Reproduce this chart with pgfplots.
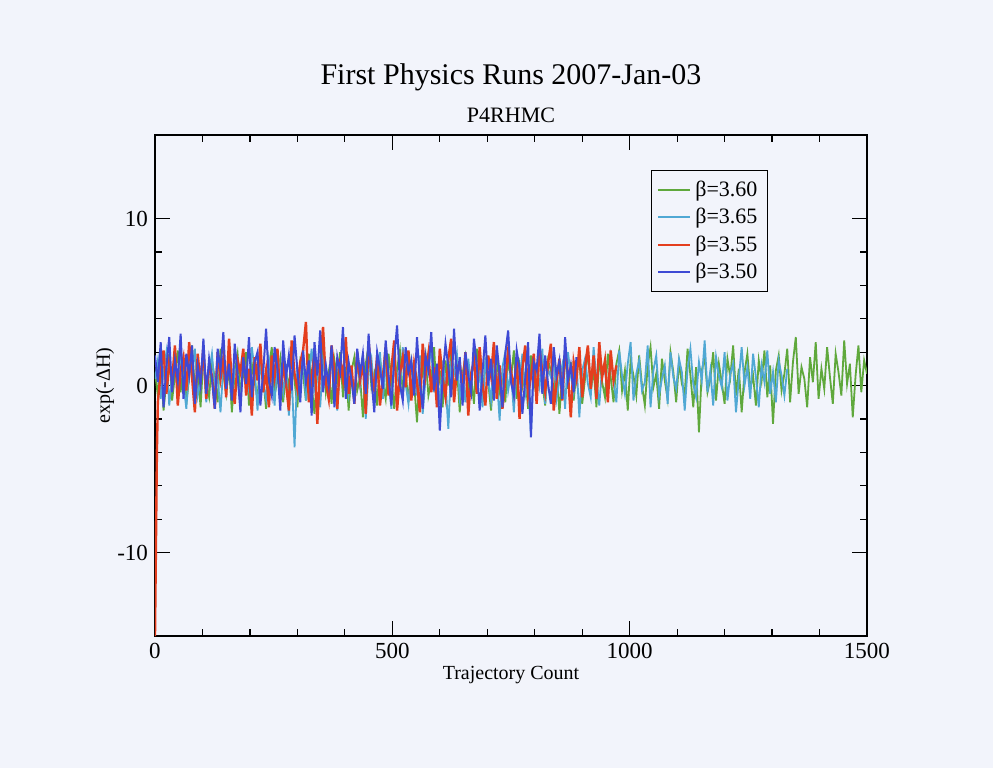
\documentclass[border=0pt]{standalone}
\usepackage{pgfplots}
\pgfplotsset{compat=1.18}
\usepackage{fontspec}
\setmainfont{Liberation Serif}

\definecolor{bgpaper}{RGB}{242,244,251}
\definecolor{cgreen}{RGB}{95,168,60}
\definecolor{ccyan}{RGB}{80,168,212}
\definecolor{cred}{RGB}{228,62,30}
\definecolor{cblue}{RGB}{62,74,212}

\begin{document}
\begin{tikzpicture}
\fill[bgpaper] (-77.5pt,-66pt) rectangle (419pt,318pt);
\begin{axis}[
    at={(0,0)}, anchor=south west,
    scale only axis,
    width=356pt, height=250.5pt,
    xmin=0, xmax=1500, ymin=-15, ymax=15,
    xtick={0,500,1000,1500}, minor x tick num=4,
    ytick={-10,0,10}, minor y tick num=4,
    tick align=inside,
    xtick pos=both, ytick pos=both,
    xticklabel pos=lower, yticklabel pos=left,
    major tick length=7.5pt, minor tick length=3.5pt,
    every tick/.style={black, line width=0.6pt},
    axis line style={black, line width=0.6pt},
    /pgf/number format/assume math mode=true,
    /pgf/number format/1000 sep={},
    tick label style={font=\fontsize{11.5}{13}\selectfont},
    xlabel={Trajectory Count},
    ylabel={exp(-ΔH)},
    xlabel style={font=\fontsize{10}{12}\selectfont, at={(axis description cs:0.5,0)}, anchor=center, yshift=-19.5pt},
    ylabel style={font=\fontsize{10}{12}\selectfont, at={(axis description cs:-0.0702,0.5)}, anchor=center},
    legend style={at={(rel axis cs:0.861,0.930)}, anchor=north east, draw=black, line width=0.6pt,
        fill=bgpaper, font=\fontsize{11}{13}\selectfont, row sep=0.5pt, inner sep=3pt},
    legend cell align=left,
    legend image code/.code={\draw[#1, line width=1pt] (0pt,0pt) -- (16pt,0pt);},
]
% beta = 3.60
\addplot[cgreen, line width=0.9pt] coordinates {
(0,0.8) (6,-0.6) (12,1.4) (18,-1.5) (24,0.3) (30,1.9) (36,-0.9) (42,0.6) (48,2.1) (54,-0.4)
(60,1.2) (66,-1.1) (72,0.5) (78,2.4) (84,-0.2) (90,0.9) (96,-1.3) (102,1.7) (108,0.1) (114,-0.7)
(120,1.5) (126,0.4) (132,-1.0) (138,2.2) (144,0.7) (150,-0.5) (156,1.1) (162,-1.6) (168,0.8) (174,1.9)
(180,-0.3) (186,0.6) (192,2.0) (198,-1.2) (204,1.3) (210,0.2) (216,-0.8) (222,1.8) (228,0.5) (234,-1.4)
(240,1.0) (246,2.3) (252,-0.6) (258,0.4) (264,1.6) (270,-1.0) (276,0.9) (282,-0.2) (288,2.1) (294,0.3)
(300,-1.3) (306,1.4) (312,0.7) (318,-0.9) (324,1.9) (330,0.0) (336,-1.7) (342,1.2) (348,0.6) (354,2.2)
(360,-0.4) (366,0.8) (372,-1.1) (378,1.5) (384,0.3) (390,2.0) (396,-0.7) (402,1.1) (408,-1.5) (414,0.9)
(420,1.7) (426,-0.3) (432,0.5) (438,-1.9) (444,1.3) (450,2.4) (456,-0.1) (462,0.7) (468,-1.2) (474,1.6)
(480,0.2) (486,-0.8) (492,1.9) (498,0.4) (504,-1.4) (510,1.0) (516,2.1) (522,-0.5) (528,0.8) (534,-1.0)
(540,1.4) (546,0.1) (552,-2.2) (558,1.2) (564,0.6) (570,1.8) (576,-0.6) (582,0.3) (588,2.3) (594,-0.9)
(600,0.9) (606,-1.3) (612,1.5) (618,0.0) (624,2.0) (630,-0.4) (636,1.1) (642,-1.6) (648,0.7) (654,1.7)
(660,-0.2) (666,0.5) (672,-1.1) (678,2.2) (684,0.8) (690,-0.7) (696,1.3) (702,0.2) (708,-1.5) (714,1.0)
(720,1.9) (726,-0.3) (732,0.6) (738,-1.0) (744,1.6) (750,0.4) (756,2.1) (762,-0.8) (768,1.2) (774,-0.1)
(780,0.7) (786,-1.4) (792,1.8) (798,0.3) (804,-0.6) (810,2.4) (816,0.1) (822,-1.2) (828,1.5) (834,0.9)
(840,-0.5) (846,1.1) (852,-1.7) (858,0.6) (864,2.0) (870,-0.2) (876,1.4) (882,-0.9) (888,0.8) (894,1.7)
(900,-1.1) (906,0.4) (912,2.2) (918,-0.4) (924,1.0) (930,-1.3) (936,1.6) (942,0.2) (948,-0.7) (954,1.9)
(960,0.5) (966,-1.0) (972,1.3) (978,2.1) (984,-0.3) (990,0.9) (996,-1.5) (1002,1.5) (1008,0.6) (1014,-0.6)
(1020,1.8) (1026,0.0) (1032,-1.2) (1038,1.2) (1044,2.3) (1050,-0.1) (1056,0.7) (1062,-1.4) (1068,1.6) (1074,0.3)
(1080,-0.8) (1086,2.0) (1092,0.8) (1098,-1.0) (1104,1.4) (1110,0.1) (1116,-0.5) (1122,2.2) (1128,0.6) (1134,-1.3)
(1140,1.1) (1146,-2.8) (1152,0.9) (1158,1.7) (1164,-0.4) (1170,0.4) (1176,2.0) (1182,-0.9) (1188,1.3) (1194,0.2)
(1200,-1.1) (1206,1.6) (1212,0.5) (1218,2.4) (1224,-0.6) (1230,1.0) (1236,-1.6) (1242,0.8) (1248,1.9) (1254,-0.2)
(1260,0.6) (1266,-1.2) (1272,1.5) (1278,0.3) (1284,2.1) (1290,-0.7) (1296,1.2) (1302,-2.3) (1308,0.9) (1314,1.8)
(1320,-0.3) (1326,0.7) (1332,2.2) (1338,-1.0) (1344,1.4) (1350,2.9) (1356,-0.5) (1362,1.1) (1368,0.4) (1374,-1.3)
(1380,1.7) (1386,0.2) (1392,2.6) (1398,-0.8) (1404,1.0) (1410,-0.2) (1416,2.3) (1422,0.5) (1428,-1.1) (1434,1.9)
(1440,0.8) (1446,-0.6) (1452,2.7) (1458,0.1) (1464,1.3) (1470,-1.9) (1476,0.6) (1482,2.4) (1488,-0.4) (1494,1.5) (1500,0.7)
};
\addlegendentry{β=3.60}
% beta = 3.65
\addplot[ccyan, line width=0.9pt] coordinates {
(0,0.4) (6,1.5) (12,-0.8) (18,0.9) (24,2.0) (30,-1.2) (36,0.6) (42,1.3) (48,-0.5) (54,1.8)
(60,0.2) (66,-1.4) (72,1.1) (78,0.7) (84,2.2) (90,-0.6) (96,0.3) (102,1.6) (108,-1.0) (114,0.8)
(120,1.9) (126,-0.2) (132,0.5) (138,-1.6) (144,1.2) (150,0.0) (156,2.1) (162,-0.7) (168,1.0) (174,0.4)
(180,-1.1) (186,1.7) (192,0.6) (198,-0.3) (204,2.3) (210,0.9) (216,-1.5) (222,1.4) (228,0.1) (234,-0.8)
(240,1.6) (246,0.5) (252,-1.2) (258,2.0) (264,0.8) (270,-0.4) (276,1.3) (282,-1.8) (288,0.7) (294,-3.7)
(300,1.1) (306,0.3) (312,1.9) (318,-0.9) (324,0.6) (330,2.2) (336,-0.1) (342,1.0) (348,-1.3) (354,1.5)
(360,0.4) (366,-0.7) (372,1.8) (378,0.2) (384,-1.5) (390,1.2) (396,0.9) (402,2.1) (408,-0.5) (414,0.7)
(420,-1.0) (426,1.4) (432,0.0) (438,1.9) (444,-2.0) (450,0.8) (456,1.6) (462,-0.3) (468,0.5) (474,2.0)
(480,-0.8) (486,1.1) (492,0.3) (498,-1.4) (504,1.7) (510,0.6) (516,-0.2) (522,2.3) (528,0.1) (534,-1.1)
(540,1.3) (546,0.8) (552,-0.6) (558,1.8) (564,-1.7) (570,0.4) (576,1.0) (582,2.2) (588,-0.4) (594,0.9)
(600,-1.2) (606,1.5) (612,0.2) (618,-2.6) (624,1.2) (630,0.7) (636,1.9) (642,-0.7) (648,0.5) (654,-1.0)
(660,1.6) (666,0.0) (672,2.1) (678,-0.5) (684,0.9) (690,-1.3) (696,1.4) (702,0.3) (708,-0.9) (714,1.7)
(720,0.6) (726,-2.1) (732,1.1) (738,2.0) (744,-0.3) (750,0.8) (756,-1.6) (762,1.3) (768,0.4) (774,1.9)
(780,-0.6) (786,0.2) (792,-2.9) (798,1.5) (804,0.7) (810,-0.1) (816,2.2) (822,-1.1) (828,1.0) (834,0.5)
(840,1.8) (846,-0.8) (852,0.3) (858,1.2) (864,-1.4) (870,2.0) (876,0.6) (882,-0.4) (888,1.4) (894,-1.9)
(900,0.9) (906,1.6) (912,0.1) (918,-0.7) (924,2.3) (930,0.4) (936,-1.2) (942,1.1) (948,0.8) (954,-0.2)
(960,1.7) (966,0.3) (972,-1.0) (978,2.1) (984,0.6) (990,-0.5) (996,1.3) (1002,2.6) (1008,-0.9) (1014,0.7)
(1020,1.5) (1026,-0.3) (1032,0.2) (1038,2.4) (1044,-1.3) (1050,0.9) (1056,1.8) (1062,-0.6) (1068,0.4) (1074,1.2)
(1080,-1.1) (1086,2.0) (1092,0.5) (1098,-0.2) (1104,1.6) (1110,0.8) (1116,-1.5) (1122,1.0) (1128,2.2) (1134,0.1)
(1140,-0.7) (1146,1.4) (1152,0.3) (1158,2.7) (1164,-0.4) (1170,0.9) (1176,-1.2) (1182,1.7) (1188,0.6) (1194,-0.1)
(1200,2.0) (1206,-0.9) (1212,0.7) (1218,1.3) (1224,-1.6) (1230,0.4) (1236,2.3) (1242,0.0) (1248,1.1) (1254,-0.8)
(1260,1.9) (1266,0.5) (1272,-1.3) (1278,1.2) (1284,0.2) (1290,2.1) (1296,-0.5) (1302,0.8) (1308,-1.0) (1314,1.5)
(1320,0.6) (1326,-0.6) (1332,1.0)
};
\addlegendentry{β=3.65}
% beta = 3.55
\addplot[cred, line width=1.2pt] coordinates {
(0,-15) (2,-9.6) (4,-4.0)
(6,-1.0) (12,0.8) (18,2.1) (24,-0.5) (30,1.4) (36,0.3) (42,2.4) (48,-1.2) (54,0.9) (60,1.7)
(66,-0.3) (72,2.6) (78,0.5) (84,-1.6) (90,1.9) (96,0.1) (102,2.3) (108,-0.8) (114,1.2) (120,0.6)
(126,-1.4) (132,2.0) (138,0.4) (144,1.6) (150,-0.7) (156,2.8) (162,0.2) (168,-1.1) (174,1.5) (180,0.8)
(186,2.2) (192,-0.6) (198,1.0) (204,-1.8) (210,1.7) (216,0.3) (222,2.5) (228,-0.4) (234,0.9) (240,-1.3)
(246,1.8) (252,0.5) (258,2.2) (264,-0.9) (270,1.3) (276,0.1) (282,-1.5) (288,2.7) (294,0.7) (300,-0.2)
(306,1.4) (312,2.1) (318,3.8) (324,-1.0) (330,0.6) (336,1.9) (342,-2.3) (348,1.1) (354,3.5) (360,0.2)
(366,-0.8) (372,2.4) (378,0.9) (384,-1.4) (390,1.6) (396,0.4) (402,2.9) (408,-0.5) (414,1.2) (420,-1.1)
(426,2.0) (432,0.3) (438,1.5) (444,-1.7) (450,2.6) (456,0.8) (462,-0.3) (468,1.8) (474,-1.2) (480,0.5)
(486,2.3) (492,-0.6) (498,1.0) (504,2.7) (510,-1.5) (516,0.7) (522,1.7) (528,-0.1) (534,2.1) (540,-0.9)
(546,1.3) (552,0.2) (558,-1.6) (564,2.5) (570,0.6) (576,1.9) (582,-0.4) (588,1.1) (594,-1.3) (600,2.2)
(606,0.4) (612,-0.7) (618,1.6) (624,2.8) (630,-1.0) (636,0.9) (642,1.4) (648,-0.2) (654,2.0) (660,-1.8)
(666,0.7) (672,1.5) (678,-0.5) (684,2.3) (690,0.1) (696,-1.2) (702,1.8) (708,0.6) (714,2.6) (720,-0.8)
(726,1.2) (732,-1.4) (738,0.3) (744,2.1) (750,0.9) (756,-0.3) (762,1.7) (768,-2.0) (774,1.0) (780,2.4)
(786,-0.6) (792,0.5) (798,1.9) (804,-1.1) (810,2.2) (816,0.8) (822,-0.4) (828,1.3) (834,2.5) (840,-1.5)
(846,0.2) (852,1.6) (858,-0.9) (864,2.0) (870,0.7) (876,-1.9) (882,1.4) (888,0.4) (894,2.3) (900,-0.7)
(906,1.1) (912,2.4) (918,-0.2) (924,1.8) (930,-0.8) (936,2.6) (942,0.5) (948,1.5) (954,-1.0) (960,2.1)
(966,0.3) (972,1.2)
};
\addlegendentry{β=3.55}
% beta = 3.50
\addplot[cblue, line width=1pt] coordinates {
(0,1.8) (6,0.2) (12,2.6) (18,-1.3) (24,1.1) (30,2.9) (36,-0.4) (42,1.5) (48,0.3) (54,3.1)
(60,-0.8) (66,1.9) (72,0.6) (78,2.4) (84,-1.1) (90,1.2) (96,0.0) (102,2.8) (108,-0.5) (114,1.6)
(120,0.4) (126,-1.4) (132,2.2) (138,0.9) (144,3.2) (150,-0.2) (156,1.3) (162,-0.9) (168,2.5) (174,0.7)
(180,-1.6) (186,1.7) (192,0.1) (198,2.9) (204,-0.7) (210,1.4) (216,2.0) (222,-1.2) (228,0.8) (234,3.4)
(240,0.3) (246,-0.6) (252,2.3) (258,1.0) (264,-1.5) (270,2.7) (276,0.5) (282,1.8) (288,-0.3) (294,3.0)
(300,0.9) (306,-1.0) (312,2.1) (318,0.2) (324,1.5) (330,-1.8) (336,2.6) (342,0.6) (348,3.3) (354,-0.4)
(360,1.2) (366,0.0) (372,2.4) (378,-1.3) (384,1.7) (390,0.8) (396,3.5) (402,-0.8) (408,1.4) (414,0.3)
(420,-1.1) (426,2.2) (432,0.7) (438,1.9) (444,-0.5) (450,3.1) (456,0.4) (462,-1.6) (468,2.0) (474,1.0)
(480,-0.2) (486,2.7) (492,0.6) (498,-1.2) (504,1.6) (510,3.6) (516,0.1) (522,-0.9) (528,2.3) (534,0.8)
(540,1.5) (546,-0.6) (552,2.9) (558,0.2) (564,-1.4) (570,1.8) (576,0.9) (582,3.2) (588,-0.3) (594,1.3)
(600,-2.7) (606,0.5) (612,2.5) (618,1.1) (624,-0.7) (630,3.4) (636,0.3) (642,1.7) (648,-1.2) (654,2.0)
(660,0.6) (666,-0.4) (672,2.8) (678,1.2) (684,-1.5) (690,0.8) (696,3.0) (702,0.0) (708,1.6) (714,-0.9)
(720,2.4) (726,0.7) (732,-1.3) (738,1.9) (744,3.3) (750,0.2) (756,-0.6) (762,2.1) (768,1.0) (774,-1.7)
(780,0.4) (786,2.6) (792,-3.1) (798,1.4) (804,0.9) (810,3.1) (816,-0.5) (822,1.8) (828,0.1) (834,-1.1)
(840,2.3) (846,0.6) (852,1.5) (858,-0.8) (864,2.9) (870,0.3) (876,1.2) (882,-0.4) (888,1.7)
};
\addlegendentry{β=3.50}
\end{axis}
\node[font=\fontsize{15}{18}\selectfont] at (178pt,279.5pt) {First Physics Runs 2007-Jan-03};
\node[font=\fontsize{11}{13}\selectfont] at (178pt,260.5pt) {P4RHMC};
\end{tikzpicture}
\end{document}
